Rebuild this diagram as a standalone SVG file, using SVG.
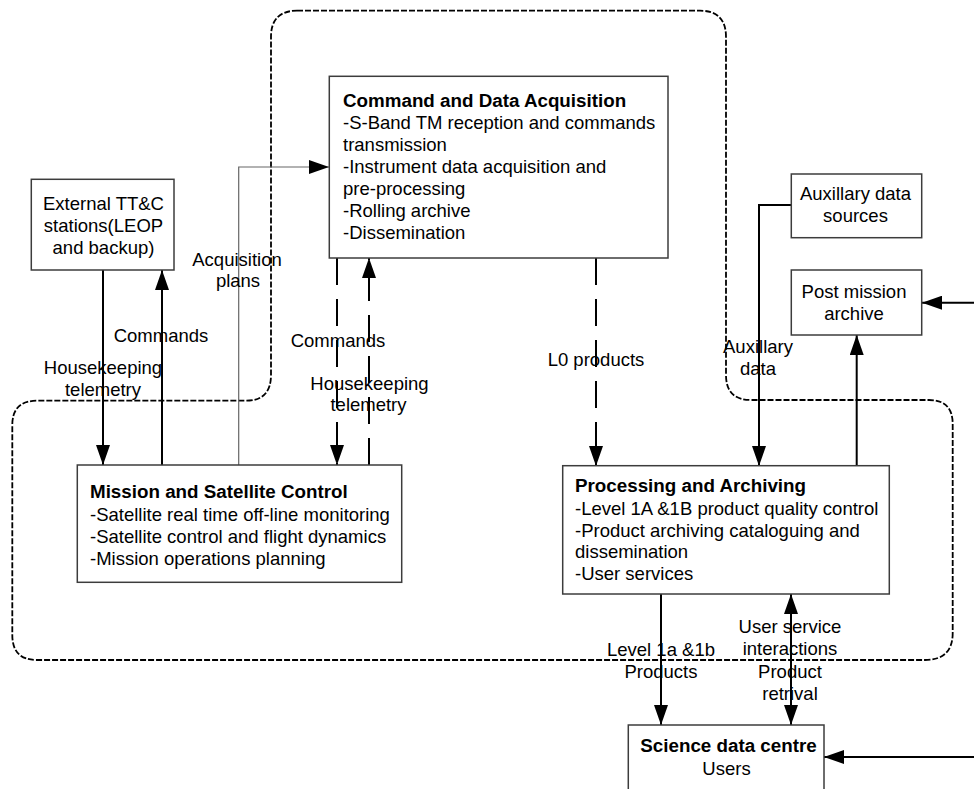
<svg xmlns="http://www.w3.org/2000/svg" width="974" height="789" viewBox="0 0 974 789">
<style>
  text { font-family: "Liberation Sans", Arial, sans-serif; font-size: 18.5px; fill: #000; }
  .b { font-weight: bold; font-size: 18.8px; }
  .c { text-anchor: middle; }
  .box { fill: #fff; stroke: #3c3c3c; stroke-width: 1.5; }
  .ln { fill: none; stroke: #000; stroke-width: 2; }
  .dash { fill: none; stroke: #000; stroke-width: 2; stroke-dasharray: 27 14; }
  .thin { fill: none; stroke: #666; stroke-width: 1.2; }
  .region { fill: none; stroke: #000; stroke-width: 1.8; stroke-dasharray: 6 2; }
</style>
<defs>
  <marker id="ah" markerUnits="userSpaceOnUse" markerWidth="20" markerHeight="14" refX="20" refY="7" orient="auto-start-reverse">
    <path d="M0,0 L20,7 L0,14 Z" fill="#000"/>
  </marker>
</defs>
<rect width="974" height="789" fill="#fff"/>

<g id="region">
  <path class="region" d="M297,10.7 H700 Q726,10.7 726,37 V375 Q726,400 751,400 H929 Q952.7,400 952.7,424 V633 Q952.7,660 925,660 H37 Q12.3,660 12.3,635 V425 Q12.3,400.7 37,400.7 H246 Q271,400.7 271,375 V37 Q271,10.7 297,10.7 Z"/>
</g>

<g id="connectors">
  <path class="ln" d="M103,270 V465" marker-end="url(#ah)"/>
  <path class="ln" d="M162,465 V270" marker-end="url(#ah)"/>
  <path class="thin" d="M238.7,465 V167 H329" marker-end="url(#ah)"/>
  <path class="dash" d="M337,258 V465" marker-end="url(#ah)"/>
  <path class="dash" d="M369,465 V258" marker-end="url(#ah)"/>
  <path class="dash" d="M596,258 V466" marker-end="url(#ah)"/>
  <path class="ln" d="M791,205 H759 V466" marker-end="url(#ah)"/>
  <path class="ln" d="M856.7,466 V335" marker-end="url(#ah)"/>
  <path class="ln" d="M974,302.7 H922" marker-end="url(#ah)"/>
  <path class="ln" d="M661,594 V725" marker-end="url(#ah)"/>
  <path class="ln" d="M791,594 V725" marker-start="url(#ah)" marker-end="url(#ah)"/>
  <path class="ln" d="M974,757 H824" marker-end="url(#ah)"/>
</g>

<g id="labels">
  <text class="c" x="237" y="265.5">Acquisition</text>
  <text class="c" x="238" y="287">plans</text>
  <text class="c" x="161" y="341.5">Commands</text>
  <text class="c" x="103" y="374">Housekeeping</text>
  <text class="c" x="103" y="396">telemetry</text>
  <text class="c" x="338" y="346.5">Commands</text>
  <text class="c" x="369.5" y="389.5">Housekeeping</text>
  <text class="c" x="368.5" y="411">telemetry</text>
  <text class="c" x="596" y="366">L0 products</text>
  <text class="c" x="758" y="353">Auxillary</text>
  <text class="c" x="758" y="375">data</text>
  <text class="c" x="661" y="655.5">Level 1a &amp;1b</text>
  <text class="c" x="661" y="677.5">Products</text>
  <text class="c" x="790" y="632.5">User service</text>
  <text class="c" x="790" y="654.5">interactions</text>
  <text class="c" x="790" y="677.5">Product</text>
  <text class="c" x="790" y="699.5">retrival</text>
</g>

<g id="external">
  <rect class="box" x="31.3" y="179.3" width="142.7" height="90.7"/>
  <text class="c" x="103.5" y="210">External TT&amp;C</text>
  <text class="c" x="103.5" y="232">stations(LEOP</text>
  <text class="c" x="103.5" y="254">and backup)</text>
</g>

<g id="command">
  <rect class="box" x="329.3" y="76.3" width="338.7" height="181.7"/>
  <text class="b" x="343" y="106.5">Command and Data Acquisition</text>
  <text x="343" y="128.5">-S-Band TM reception and commands</text>
  <text x="343" y="150.5">transmission</text>
  <text x="343" y="172.5">-Instrument data acquisition and</text>
  <text x="343" y="194.5">pre-processing</text>
  <text x="343" y="216.5">-Rolling archive</text>
  <text x="343" y="238.5">-Dissemination</text>
</g>

<g id="mission">
  <rect class="box" x="77.3" y="465" width="324.4" height="117.3"/>
  <text class="b" x="90" y="497.5">Mission and Satellite Control</text>
  <text x="90" y="520.5">-Satellite real time off-line monitoring</text>
  <text x="90" y="542.5">-Satellite control and flight dynamics</text>
  <text x="90" y="564.5">-Mission operations planning</text>
</g>

<g id="auxillary">
  <rect class="box" x="791.3" y="174" width="130.4" height="63.7"/>
  <text class="c" x="855.5" y="200">Auxillary data</text>
  <text class="c" x="855.5" y="222">sources</text>
</g>

<g id="postmission">
  <rect class="box" x="791.3" y="270" width="130.4" height="65"/>
  <text class="c" x="854" y="298">Post mission</text>
  <text class="c" x="854" y="320">archive</text>
</g>

<g id="processing">
  <rect class="box" x="562.7" y="465.7" width="326.6" height="128.3"/>
  <text class="b" x="575" y="492">Processing and Archiving</text>
  <text x="575" y="515">-Level 1A &amp;1B product quality control</text>
  <text x="575" y="536.5">-Product archiving cataloguing and</text>
  <text x="575" y="558">dissemination</text>
  <text x="575" y="580">-User services</text>
</g>

<g id="science">
  <rect class="box" x="628.3" y="725" width="195.7" height="80"/>
  <text class="b c" x="728.5" y="752">Science data centre</text>
  <text class="c" x="726.5" y="775">Users</text>
</g>
</svg>
